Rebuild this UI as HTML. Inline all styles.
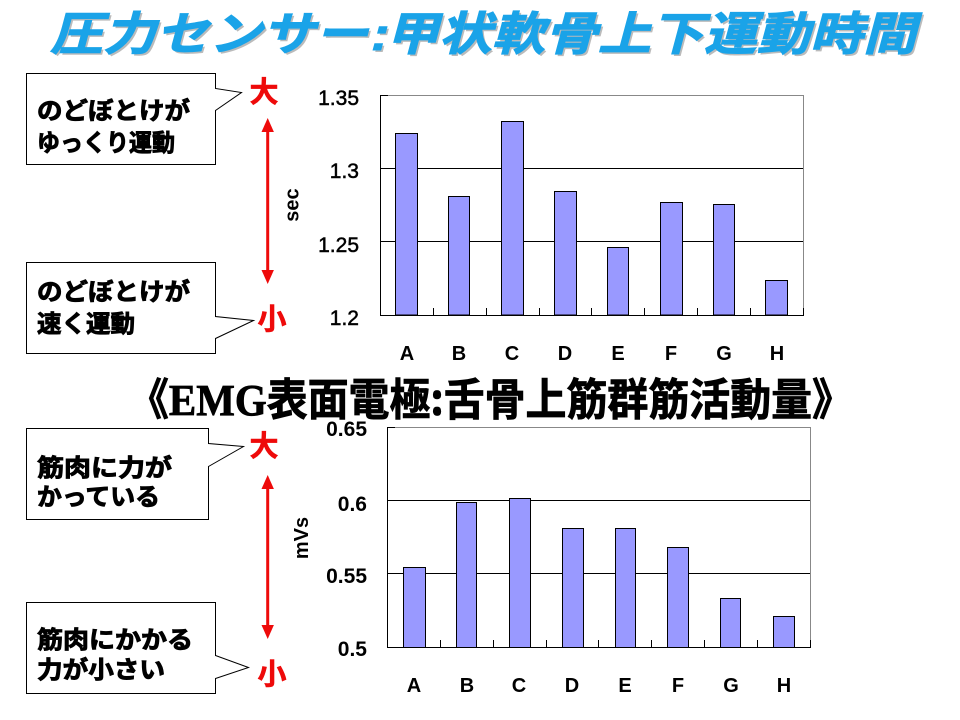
<!DOCTYPE html>
<html><head><meta charset="utf-8">
<style>
html,body{margin:0;padding:0;background:#fff;}
svg{display:block;}
.jp{font-family:"Liberation Sans","Noto Sans CJK JP",sans-serif;font-weight:bold;}
.num{font-family:"Liberation Sans",sans-serif;}
</style></head>
<body>
<svg width="960" height="720" viewBox="0 0 960 720" xmlns="http://www.w3.org/2000/svg">
<rect width="960" height="720" fill="#fff"/>

<!-- Title -->
<g transform="translate(52,52) skewX(-15)">
  <text class="jp" x="0" y="0" font-size="46" fill="#7a7a7a" opacity="0.5" textLength="866" lengthAdjust="spacingAndGlyphs">圧力センサー:甲状軟骨上下運動時間</text>
</g>
<g transform="translate(50,50) skewX(-15)">
  <text class="jp" x="0" y="0" font-size="46" fill="#1aa3e8" stroke="#1aa3e8" stroke-width="1" textLength="866" lengthAdjust="spacingAndGlyphs">圧力センサー:甲状軟骨上下運動時間</text>
</g>

<!-- Subtitle -->
<text x="128" y="415" font-size="44" font-weight="bold" fill="#000" stroke="#000" stroke-width="0.8" textLength="725" lengthAdjust="spacingAndGlyphs" font-family="'Liberation Sans','Noto Sans CJK JP',sans-serif"><tspan font-family="'Noto Sans CJK JP',sans-serif">《</tspan><tspan font-family="'Liberation Serif',serif">EMG</tspan><tspan font-family="'Noto Sans CJK JP',sans-serif">表面電極:舌骨上筋群筋活動量》</tspan></text>

<!-- Callout boxes -->
<g fill="#fff" stroke="#000" stroke-width="1">
  <path d="M26.5,73.5 H215.5 V88.5 L241.5,92.5 L215.5,110.5 V164.5 H26.5 Z"/>
  <path d="M26.5,262.5 H215.5 V316.5 L253.5,320.5 L215.5,338.5 V353.5 H26.5 Z"/>
  <path d="M26.5,428.5 H208.5 V443.5 L243.5,446.5 L208.5,466.5 V519.5 H26.5 Z"/>
  <path d="M26.5,602.5 H215.5 V655.5 L248.5,667.5 L215.5,678.5 V693.5 H26.5 Z"/>
</g>
<g class="jp" font-size="24" fill="#000" stroke="#000" stroke-width="0.9">
  <text x="37" y="119" textLength="153" lengthAdjust="spacingAndGlyphs">のどぼとけが</text>
  <text x="37" y="151" textLength="138" lengthAdjust="spacingAndGlyphs">ゆっくり運動</text>
  <text x="37" y="300" textLength="153" lengthAdjust="spacingAndGlyphs">のどぼとけが</text>
  <text x="37" y="332" textLength="98" lengthAdjust="spacingAndGlyphs">速く運動</text>
  <text x="37" y="476" textLength="135" lengthAdjust="spacingAndGlyphs">筋肉に力が</text>
  <text x="37" y="505" textLength="123" lengthAdjust="spacingAndGlyphs">かっている</text>
  <text x="37" y="648" textLength="156" lengthAdjust="spacingAndGlyphs">筋肉にかかる</text>
  <text x="37" y="678" textLength="128" lengthAdjust="spacingAndGlyphs">力が小さい</text>
</g>

<!-- Red markers -->
<g class="jp" font-size="29" fill="#ee0a0a" stroke="#ee0a0a" stroke-width="0.6" text-anchor="middle">
  <text x="264" y="102">大</text>
  <text x="272" y="329">小</text>
  <text x="264" y="456">大</text>
  <text x="272" y="684">小</text>
</g>
<g stroke="#ee0a0a" stroke-width="3" fill="#ee0a0a">
  <line x1="267.7" y1="130" x2="267.7" y2="271"/>
  <polygon points="267.7,118 261.5,132 273.9,132" stroke="none"/>
  <polygon points="267.7,284 261.5,270 273.9,270" stroke="none"/>
  <line x1="267.7" y1="487" x2="267.7" y2="626"/>
  <polygon points="267.7,475 261.5,489 273.9,489" stroke="none"/>
  <polygon points="267.7,639 261.5,625 273.9,625" stroke="none"/>
</g>

<!-- Axis titles -->
<text class="num" font-weight="bold" font-size="20" text-anchor="middle" transform="translate(298.5,205) rotate(-90)">sec</text>
<text class="num" font-weight="bold" font-size="20" text-anchor="middle" transform="translate(308,538) rotate(-90)">mVs</text>

<!-- Upper chart -->
<g>
  <rect x="380.5" y="95.5" width="423" height="220" fill="#fff" stroke="#888" stroke-width="1"/>
  <line x1="380" y1="168.5" x2="803" y2="168.5" stroke="#000"/>
  <line x1="380" y1="241.5" x2="803" y2="241.5" stroke="#000"/>
  <line x1="380" y1="95.5" x2="388" y2="95.5" stroke="#000"/>
  <g fill="#9999ff" stroke="#000" stroke-width="1">
    <rect x="395.5" y="133.5" width="22" height="181.5"/>
    <rect x="448.5" y="196.5" width="21" height="118.5"/>
    <rect x="501.5" y="121.5" width="22" height="193.5"/>
    <rect x="554.5" y="191.5" width="22" height="123.5"/>
    <rect x="607.5" y="247.5" width="21" height="67.5"/>
    <rect x="660.5" y="202.5" width="22" height="112.5"/>
    <rect x="713.5" y="204.5" width="21" height="110.5"/>
    <rect x="765.5" y="280.5" width="22" height="34.5"/>
  </g>
  <line x1="380.5" y1="95" x2="380.5" y2="316" stroke="#000"/>
  <line x1="380" y1="315.5" x2="804" y2="315.5" stroke="#000"/>
  <g stroke="#000">
    <line x1="433.5" y1="308" x2="433.5" y2="315"/>
    <line x1="486.5" y1="308" x2="486.5" y2="315"/>
    <line x1="539.5" y1="308" x2="539.5" y2="315"/>
    <line x1="591.5" y1="308" x2="591.5" y2="315"/>
    <line x1="644.5" y1="308" x2="644.5" y2="315"/>
    <line x1="697.5" y1="308" x2="697.5" y2="315"/>
    <line x1="750.5" y1="308" x2="750.5" y2="315"/>
    <line x1="803.5" y1="308" x2="803.5" y2="315"/>
  </g>
  <g class="num" font-size="21" text-anchor="end" fill="#000" stroke="#000" stroke-width="0.5">
    <text x="359" y="105">1.35</text>
    <text x="359" y="178">1.3</text>
    <text x="359" y="252">1.25</text>
    <text x="359" y="325">1.2</text>
  </g>
  <g class="num" font-size="20" font-weight="bold" text-anchor="middle" fill="#000">
    <text x="407" y="360">A</text>
    <text x="459" y="360">B</text>
    <text x="512" y="360">C</text>
    <text x="565" y="360">D</text>
    <text x="618" y="360">E</text>
    <text x="671" y="360">F</text>
    <text x="724" y="360">G</text>
    <text x="777" y="360">H</text>
  </g>
</g>

<!-- Lower chart -->
<g>
  <rect x="387.5" y="427.5" width="423" height="220" fill="#fff" stroke="#888" stroke-width="1"/>
  <line x1="387" y1="500.5" x2="810" y2="500.5" stroke="#000"/>
  <line x1="387" y1="573.5" x2="810" y2="573.5" stroke="#000"/>
  <line x1="387" y1="427.5" x2="395" y2="427.5" stroke="#000"/>
  <g fill="#9999ff" stroke="#000" stroke-width="1">
    <rect x="403.5" y="567.5" width="22" height="80"/>
    <rect x="456.5" y="502.5" width="20" height="145"/>
    <rect x="509.5" y="498.5" width="21" height="149"/>
    <rect x="562.5" y="528.5" width="21" height="119"/>
    <rect x="615.5" y="528.5" width="20" height="119"/>
    <rect x="667.5" y="547.5" width="21" height="100"/>
    <rect x="720.5" y="598.5" width="20" height="49"/>
    <rect x="773.5" y="616.5" width="21" height="31"/>
  </g>
  <line x1="387.5" y1="427" x2="387.5" y2="648" stroke="#000"/>
  <line x1="387" y1="647.5" x2="811" y2="647.5" stroke="#000"/>
  <g stroke="#000">
    <line x1="440.5" y1="640" x2="440.5" y2="647"/>
    <line x1="493.5" y1="640" x2="493.5" y2="647"/>
    <line x1="546.5" y1="640" x2="546.5" y2="647"/>
    <line x1="598.5" y1="640" x2="598.5" y2="647"/>
    <line x1="651.5" y1="640" x2="651.5" y2="647"/>
    <line x1="704.5" y1="640" x2="704.5" y2="647"/>
    <line x1="757.5" y1="640" x2="757.5" y2="647"/>
    <line x1="810.5" y1="640" x2="810.5" y2="647"/>
  </g>
  <g class="num" font-size="21" font-weight="bold" text-anchor="end" fill="#000">
    <text x="367" y="436">0.65</text>
    <text x="367" y="511">0.6</text>
    <text x="367" y="583">0.55</text>
    <text x="367" y="656">0.5</text>
  </g>
  <g class="num" font-size="20" font-weight="bold" text-anchor="middle" fill="#000">
    <text x="414" y="692">A</text>
    <text x="467" y="692">B</text>
    <text x="519" y="692">C</text>
    <text x="572" y="692">D</text>
    <text x="625" y="692">E</text>
    <text x="678" y="692">F</text>
    <text x="731" y="692">G</text>
    <text x="784" y="692">H</text>
  </g>
</g>
</svg>
</body></html>
